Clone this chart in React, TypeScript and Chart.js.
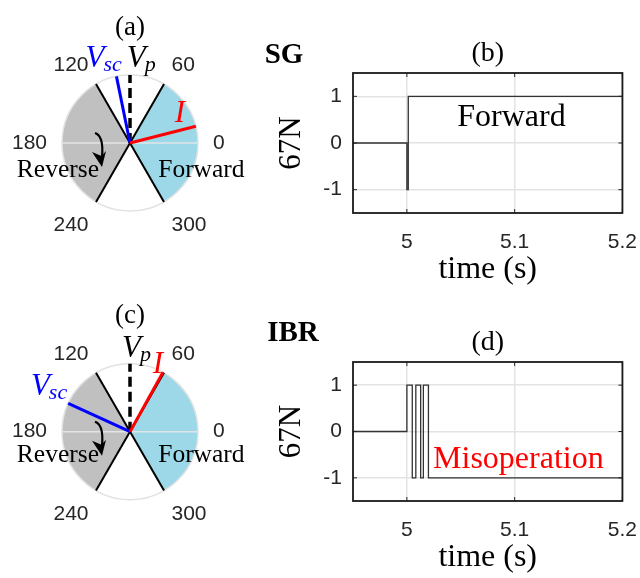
import React, { useEffect, useRef } from 'react';
import { Chart, registerables } from 'chart.js';
Chart.register(...registerables);

// ---------- data ----------
// polar (phasor) panels
const polarTickAngles = [0, 60, 120, 180, 240, 300];
const polarTickLabels = ['0', '60', '120', '180', '240', '300'];
const forwardZone = [-60, 60];
const reverseZone = [120, 240];
const zoneBoundaryAngles = [60, 120];
const phasorMain = ['V', 'V', 'I'];
const phasorSub = ['p', 'sc', ''];
const sgPhasorAngles = [90, 101.5, 14.3];
const sgPhasorMags = [1, 1, 1];
const ibrPhasorAngles = [90, 155.4, 61];
const ibrPhasorMags = [1, 1, 1];

// 67N element output panels
const sgTimes = [4.95, 5.0, 5.0013, 5.2];
const sgStates = [0, -1, 1, 1];
const ibrTimes = [4.95, 5.0, 5.005, 5.0083, 5.0128, 5.0153, 5.02, 5.2];
const ibrStates = [0, 1, -1, 1, -1, 1, -1, -1];
const timeTicks = [5, 5.1, 5.2];
const timeTickLabels = ['5', '5.1', '5.2'];
const stateTicks = [-1, 0, 1];
const stateTickLabels = ['-1', '0', '1'];

const SERIF = '"Liberation Serif", "Times New Roman", serif';
const SANS = '"Liberation Sans", Arial, sans-serif';
const TICK_COLOR = '#262626';

const phasorColors = ['#000000', '#0000ff', '#ff0000'];

// ---------- plugins ----------
const polarDecor = {
  id: 'polarDecor',
  beforeDatasetsDraw(chart: any, _args: any, opts: any) {
    const ctx = chart.ctx;
    const xs = chart.scales.x;
    const ys = chart.scales.y;
    const cx = xs.getPixelForValue(0);
    const cy = ys.getPixelForValue(0);
    const R = xs.getPixelForValue(1) - cx;
    const rad = (d: number) => (d * Math.PI) / 180;
    ctx.save();
    const sector = (z: number[], color: string) => {
      ctx.beginPath();
      ctx.moveTo(cx, cy);
      ctx.arc(cx, cy, R, -rad(z[0]), -rad(z[1]), true);
      ctx.closePath();
      ctx.fillStyle = color;
      ctx.fill();
    };
    sector(forwardZone, '#9dd8e8');
    sector(reverseZone, '#c0c0c0');
    // faint 0-180 grid line
    ctx.strokeStyle = 'rgba(232,232,232,0.9)';
    ctx.lineWidth = 1.5;
    ctx.beginPath();
    ctx.moveTo(cx - R, cy);
    ctx.lineTo(cx + R, cy);
    ctx.stroke();
    // outline
    ctx.strokeStyle = '#e2e2e2';
    ctx.lineWidth = 1.5;
    ctx.beginPath();
    ctx.arc(cx, cy, R, 0, Math.PI * 2);
    ctx.stroke();
    // zone boundaries (diameters)
    ctx.strokeStyle = '#000';
    ctx.lineWidth = 2;
    for (const a of zoneBoundaryAngles) {
      const dx = R * Math.cos(rad(a));
      const dy = R * Math.sin(rad(a));
      ctx.beginPath();
      ctx.moveTo(cx + dx, cy - dy);
      ctx.lineTo(cx - dx, cy + dy);
      ctx.stroke();
    }
    // angle tick labels
    ctx.font = `21px ${SANS}`;
    ctx.fillStyle = TICK_COLOR;
    const pr = R + 15;
    polarTickAngles.forEach((a, i) => {
      const c = Math.cos(rad(a));
      const s = Math.sin(rad(a));
      ctx.textAlign = c > 0.1 ? 'left' : c < -0.1 ? 'right' : 'center';
      ctx.textBaseline = s > 0.1 ? 'alphabetic' : s < -0.1 ? 'top' : 'middle';
      ctx.fillText(polarTickLabels[i], cx + pr * c, cy - pr * s);
    });
    // zone labels
    ctx.font = `25.5px ${SERIF}`;
    ctx.fillStyle = '#000';
    ctx.textAlign = 'center';
    ctx.textBaseline = 'alphabetic';
    ctx.fillText('Reverse', cx - 1.06 * R, cy + opts.zoneLabelDy);
    ctx.fillText('Forward', cx + 1.05 * R, cy + opts.zoneLabelDy);
    // curved arrow
    const k = R / 68;
    const P = (x: number, y: number) => [cx + x * k, cy + y * k];
    ctx.strokeStyle = '#000';
    ctx.lineWidth = 2.2;
    ctx.beginPath();
    const s0 = P(-35, -10), c0 = P(-26, -7), e0 = P(-28, 14);
    ctx.moveTo(s0[0], s0[1]);
    ctx.quadraticCurveTo(c0[0], c0[1], e0[0], e0[1]);
    ctx.stroke();
    const t = P(-28, 24), l = P(-38, 9), n = P(-28.5, 13), r = P(-24, 8);
    ctx.fillStyle = '#000';
    ctx.beginPath();
    ctx.moveTo(t[0], t[1]);
    ctx.lineTo(l[0], l[1]);
    ctx.lineTo(n[0], n[1]);
    ctx.lineTo(r[0], r[1]);
    ctx.closePath();
    ctx.fill();
    ctx.restore();
  },
  afterDatasetsDraw(chart: any, _args: any, opts: any) {
    const ctx = chart.ctx;
    const xs = chart.scales.x;
    const ys = chart.scales.y;
    ctx.save();
    const angles: number[] = opts.angles;
    const mags: number[] = opts.mags;
    angles.forEach((a, i) => {
      const tx = xs.getPixelForValue(mags[i] * Math.cos((a * Math.PI) / 180));
      const ty = ys.getPixelForValue(mags[i] * Math.sin((a * Math.PI) / 180));
      const off = opts.labelOffsets[i];
      const main = phasorMain[i];
      const sub = phasorSub[i];
      ctx.textBaseline = 'alphabetic';
      ctx.textAlign = 'left';
      ctx.font = `italic 31px ${SERIF}`;
      const w1 = ctx.measureText(main).width;
      ctx.font = `italic 22px ${SERIF}`;
      const w2 = sub ? ctx.measureText(sub).width : 0;
      const total = w1 + w2;
      const ax = tx + off[0];
      const ay = ty + off[1];
      const x0 = off[2] === 'right' ? ax - total : off[2] === 'center' ? ax - total / 2 : ax;
      ctx.fillStyle = phasorColors[i];
      ctx.font = `italic 31px ${SERIF}`;
      ctx.fillText(main, x0, ay);
      if (sub) {
        ctx.font = `italic 22px ${SERIF}`;
        ctx.fillText(sub, x0 + w1 - 1, ay + 4);
      }
    });
    ctx.restore();
  },
};

const boxPlugin = {
  id: 'boxPlugin',
  afterDatasetsDraw(chart: any, _args: any, opts: any) {
    const ctx = chart.ctx;
    const { left, right, top, bottom } = chart.chartArea;
    const xs = chart.scales.x;
    const ys = chart.scales.y;
    ctx.save();
    ctx.strokeStyle = TICK_COLOR;
    ctx.lineWidth = 1;
    const tl = 4;
    ctx.beginPath();
    for (const v of timeTicks) {
      const px = xs.getPixelForValue(v);
      ctx.moveTo(px, bottom);
      ctx.lineTo(px, bottom - tl);
      ctx.moveTo(px, top);
      ctx.lineTo(px, top + tl);
    }
    for (const v of stateTicks) {
      const py = ys.getPixelForValue(v);
      ctx.moveTo(left, py);
      ctx.lineTo(left + tl, py);
      ctx.moveTo(right, py);
      ctx.lineTo(right - tl, py);
    }
    ctx.stroke();
    ctx.lineWidth = 1.8;
    ctx.strokeStyle = '#1a1a1a';
    ctx.strokeRect(left, top, right - left, bottom - top);
    // annotation
    if (opts && opts.text) {
      ctx.font = `32px ${SERIF}`;
      ctx.fillStyle = opts.color;
      ctx.textAlign = 'left';
      ctx.textBaseline = 'alphabetic';
      ctx.fillText(opts.text, xs.getPixelForValue(opts.x), ys.getPixelForValue(opts.y));
    }
    ctx.restore();
  },
};

// ---------- configs ----------
function polarConfig(
  angles: number[],
  mags: number[],
  title: string,
  titlePad: { top: number; bottom: number },
  pad: { left: number; right: number; top: number; bottom: number },
  labelOffsets: any[],
  zoneLabelDy: number
): any {
  const order = [2, 1, 0];
  const datasets = angles.map((a, i) => ({
    data: [
      { x: 0, y: 0 },
      { x: mags[i] * Math.cos((a * Math.PI) / 180), y: mags[i] * Math.sin((a * Math.PI) / 180) },
    ],
    showLine: true,
    borderColor: phasorColors[i],
    borderWidth: i === 0 ? 3.5 : 3,
    borderDash: i === 0 ? [10, 5] : [],
    borderCapStyle: 'butt',
    pointRadius: 0,
    fill: false,
    order: order[i],
  }));
  return {
    type: 'scatter',
    data: { datasets },
    options: {
      animation: false,
      responsive: false,
      devicePixelRatio: 1,
      layout: { padding: pad },
      events: [],
      plugins: {
        legend: { display: false },
        tooltip: { enabled: false },
        title: {
          display: true,
          text: title,
          color: '#000',
          font: { family: SERIF, size: 27, weight: 'normal', lineHeight: 1.2 },
          padding: titlePad,
        },
        polarDecor: { angles, mags, labelOffsets, zoneLabelDy },
      },
      scales: {
        x: { type: 'linear', min: -1.25, max: 1.25, display: false },
        y: { type: 'linear', min: -1.25, max: 1.25, display: false },
      },
    },
    plugins: [polarDecor],
  };
}

function stepConfig(
  times: number[],
  states: number[],
  title: string,
  titlePad: { top: number; bottom: number },
  annotation: any
): any {
  return {
    type: 'scatter',
    data: {
      datasets: [
        {
          data: times.map((t, i) => ({ x: t, y: states[i] })),
          showLine: true,
          stepped: true,
          borderColor: '#333333',
          borderWidth: 1.3,
          pointRadius: 0,
          fill: false,
        },
      ],
    },
    options: {
      animation: false,
      responsive: false,
      devicePixelRatio: 1,
      events: [],
      layout: { padding: { left: 0, right: 0, top: 0, bottom: 0 } },
      plugins: {
        legend: { display: false },
        tooltip: { enabled: false },
        title: {
          display: true,
          fullSize: false,
          text: title,
          color: '#000',
          font: { family: SERIF, size: 28, weight: 'normal', lineHeight: 1.2 },
          padding: titlePad,
        },
        boxPlugin: annotation,
      },
      scales: {
        x: {
          type: 'linear',
          min: 4.95,
          max: 5.2,
          afterBuildTicks: (s: any) => {
            s.ticks = timeTicks.map((v) => ({ value: v }));
          },
          afterFit: (s: any) => {
            s.height = 77;
          },
          ticks: {
            callback: (_v: any, i: number) => timeTickLabels[i],
            font: { family: SANS, size: 21 },
            color: TICK_COLOR,
            padding: 17,
            autoSkip: false,
            maxRotation: 0,
          },
          grid: { color: '#e3e3e3', lineWidth: 1.5, drawTicks: false },
          border: { display: false },
          title: {
            display: true,
            text: 'time (s)',
            color: '#000',
            font: { family: SERIF, size: 32, lineHeight: 1 },
            padding: { top: 0, bottom: 4 },
          },
        },
        y: {
          type: 'linear',
          min: -1.5,
          max: 1.5,
          afterBuildTicks: (s: any) => {
            s.ticks = stateTicks.map((v) => ({ value: v }));
          },
          afterFit: (s: any) => {
            s.width = 83;
          },
          ticks: {
            callback: (_v: any, i: number) => stateTickLabels[i],
            font: { family: SANS, size: 21 },
            color: TICK_COLOR,
            padding: 11,
            autoSkip: false,
          },
          grid: { color: '#e3e3e3', lineWidth: 1.5, drawTicks: false },
          border: { display: false },
          title: {
            display: true,
            text: '67N',
            color: '#000',
            font: { family: SERIF, size: 31, lineHeight: 1 },
            padding: { top: 6.5, bottom: 0 },
          },
        },
      },
    },
    plugins: [boxPlugin],
  };
}

function ChartCanvas({ left, top, width, height, config }: any) {
  const ref = useRef<HTMLCanvasElement | null>(null);
  useEffect(() => {
    if (!ref.current) return;
    const chart = new Chart(ref.current, config);
    return () => chart.destroy();
  }, []);
  return (
    <canvas
      ref={ref}
      width={width}
      height={height}
      style={{ position: 'absolute', left, top, width, height }}
    />
  );
}

export default function App() {
  const cfgA = polarConfig(
    sgPhasorAngles,
    sgPhasorMags,
    '(a)',
    { top: 11.8, bottom: 13.8 },
    { left: 45, right: 45, top: 0, bottom: 62 },
    [
      [-3.3, -8.3, 'left'],
      [6.3, -9.7, 'right'],
      [-16, -4.5, 'center'],
    ],
    34
  );
  const cfgC = polarConfig(
    ibrPhasorAngles,
    ibrPhasorMags,
    '(c)',
    { top: 9.8, bottom: 14.5 },
    { left: 45, right: 45, top: 0, bottom: 61.3 },
    [
      [-8, -7, 'left'],
      [0, -8.4, 'right'],
      [-5, 1, 'center'],
    ],
    30
  );
  const cfgB = stepConfig(sgTimes, sgStates, '(b)', { top: 7.2, bottom: 2.2 }, {
    text: 'Forward',
    x: 5.0467,
    y: 0.36,
    color: '#000000',
  });
  const cfgD = stepConfig(ibrTimes, ibrStates, '(d)', { top: 16.2, bottom: 2.2 }, {
    text: 'Misoperation',
    x: 5.0243,
    y: -0.79,
    color: '#ff0000',
  });
  const labelStyle: React.CSSProperties = {
    position: 'absolute',
    font: `bold 29px ${SERIF}`,
    lineHeight: 1,
    transform: 'translate(-50%, -50%)',
    color: '#000',
    whiteSpace: 'nowrap',
  };
  return (
    <div
      style={{
        position: 'absolute',
        left: 0,
        top: 0,
        width: 640,
        height: 578,
        background: '#fff',
        overflow: 'hidden',
      }}
    >
      <ChartCanvas left={0} top={0} width={260} height={290} config={cfgA} />
      <ChartCanvas left={270} top={30} width={384} height={260} config={cfgB} />
      <ChartCanvas left={0} top={290} width={260} height={288} config={cfgC} />
      <ChartCanvas left={270} top={310} width={384} height={268} config={cfgD} />
      <div style={{ ...labelStyle, left: 284, top: 53 }}>SG</div>
      <div style={{ ...labelStyle, left: 293, top: 331 }}>IBR</div>
    </div>
  );
}
